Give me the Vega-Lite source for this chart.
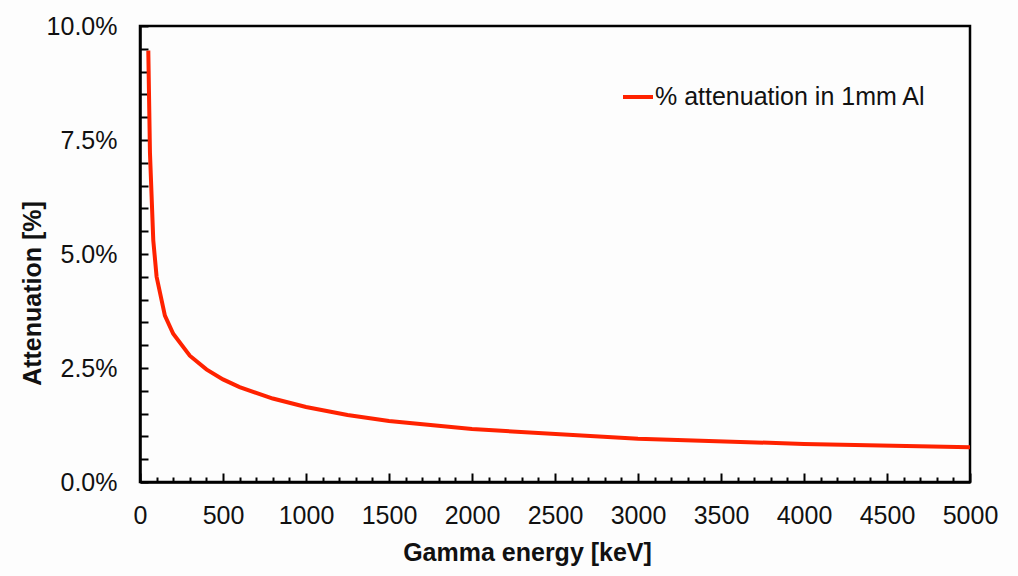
{
  "$schema": "https://vega.github.io/schema/vega-lite/v6.json",
  "autosize": "none",
  "width": 830,
  "height": 456,
  "padding": {"left": 140, "top": 26, "right": 48, "bottom": 94},
  "background": "#fdfdfd",
  "config": {
    "font": "Liberation Sans",
    "view": {"stroke": "#000000", "strokeWidth": 2.5},
    "axis": {
      "grid": false,
      "domainColor": "#000000",
      "domainWidth": 2.5,
      "tickColor": "#000000",
      "tickWidth": 2,
      "labelColor": "#111111",
      "labelFont": "Liberation Sans",
      "labelFontSize": 25,
      "titleFont": "Liberation Sans",
      "titleFontSize": 25,
      "titleFontWeight": "bold",
      "titleColor": "#111111"
    }
  },
  "data": {
    "values": [
      {"energy": 50, "att": 0.0946},
      {"energy": 60, "att": 0.0722},
      {"energy": 80, "att": 0.0530},
      {"energy": 100, "att": 0.0450},
      {"energy": 150, "att": 0.0365},
      {"energy": 200, "att": 0.0325},
      {"energy": 300, "att": 0.0277},
      {"energy": 400, "att": 0.0247},
      {"energy": 500, "att": 0.0225},
      {"energy": 600, "att": 0.0208},
      {"energy": 800, "att": 0.0183},
      {"energy": 1000, "att": 0.01645},
      {"energy": 1250, "att": 0.0147},
      {"energy": 1500, "att": 0.0134},
      {"energy": 2000, "att": 0.0116},
      {"energy": 3000, "att": 0.00951},
      {"energy": 4000, "att": 0.00835},
      {"energy": 5000, "att": 0.00762}
    ]
  },
  "mark": {"type": "line", "strokeWidth": 4, "clip": true},
  "encoding": {
    "x": {
      "field": "energy",
      "type": "quantitative",
      "scale": {"domain": [0, 5000], "nice": false, "zero": true},
      "title": "Gamma energy [keV]",
      "axis": {
        "values": [0,100,200,300,400,500,600,700,800,900,1000,1100,1200,1300,1400,1500,1600,1700,1800,1900,2000,2100,2200,2300,2400,2500,2600,2700,2800,2900,3000,3100,3200,3300,3400,3500,3600,3700,3800,3900,4000,4100,4200,4300,4400,4500,4600,4700,4800,4900,5000],
        "labelExpr": "datum.value % 500 === 0 ? datum.label : ''",
        "format": "d",
        "tickSize": {"condition": {"test": "datum.value % 500 === 0", "value": -9}, "value": -5},
        "labelPadding": 30,
        "labelFlush": false,
        "labelOverlap": false,
        "titlePadding": 8,
        "titleX": 387
      }
    },
    "y": {
      "field": "att",
      "type": "quantitative",
      "scale": {"domain": [0, 0.1], "nice": false},
      "title": "Attenuation [%]",
      "axis": {
        "values": [0,0.005,0.01,0.015,0.02,0.025,0.03,0.035,0.04,0.045,0.05,0.055,0.06,0.065,0.07,0.075,0.08,0.085,0.09,0.095,0.1],
        "labelExpr": "round(datum.value * 1000) % 25 === 0 ? format(datum.value, '.1%') : ''",
        "tickSize": -8,
        "labelPadding": 31,
        "labelFlush": false,
        "labelOverlap": false,
        "titlePadding": 1,
        "titleY": 267
      }
    },
    "color": {
      "datum": "% attenuation in 1mm Al",
      "type": "nominal",
      "scale": {"range": ["#ff2200"]},
      "legend": {
        "title": null,
        "orient": "none",
        "legendX": 481,
        "legendY": 54,
        "padding": 0,
        "symbolType": "stroke",
        "symbolSize": 900,
        "symbolStrokeWidth": 4,
        "labelFontSize": 25,
        "labelFont": "Liberation Sans",
        "labelColor": "#111111",
        "labelOffset": 0,
        "labelLimit": 0
      }
    }
  }
}
